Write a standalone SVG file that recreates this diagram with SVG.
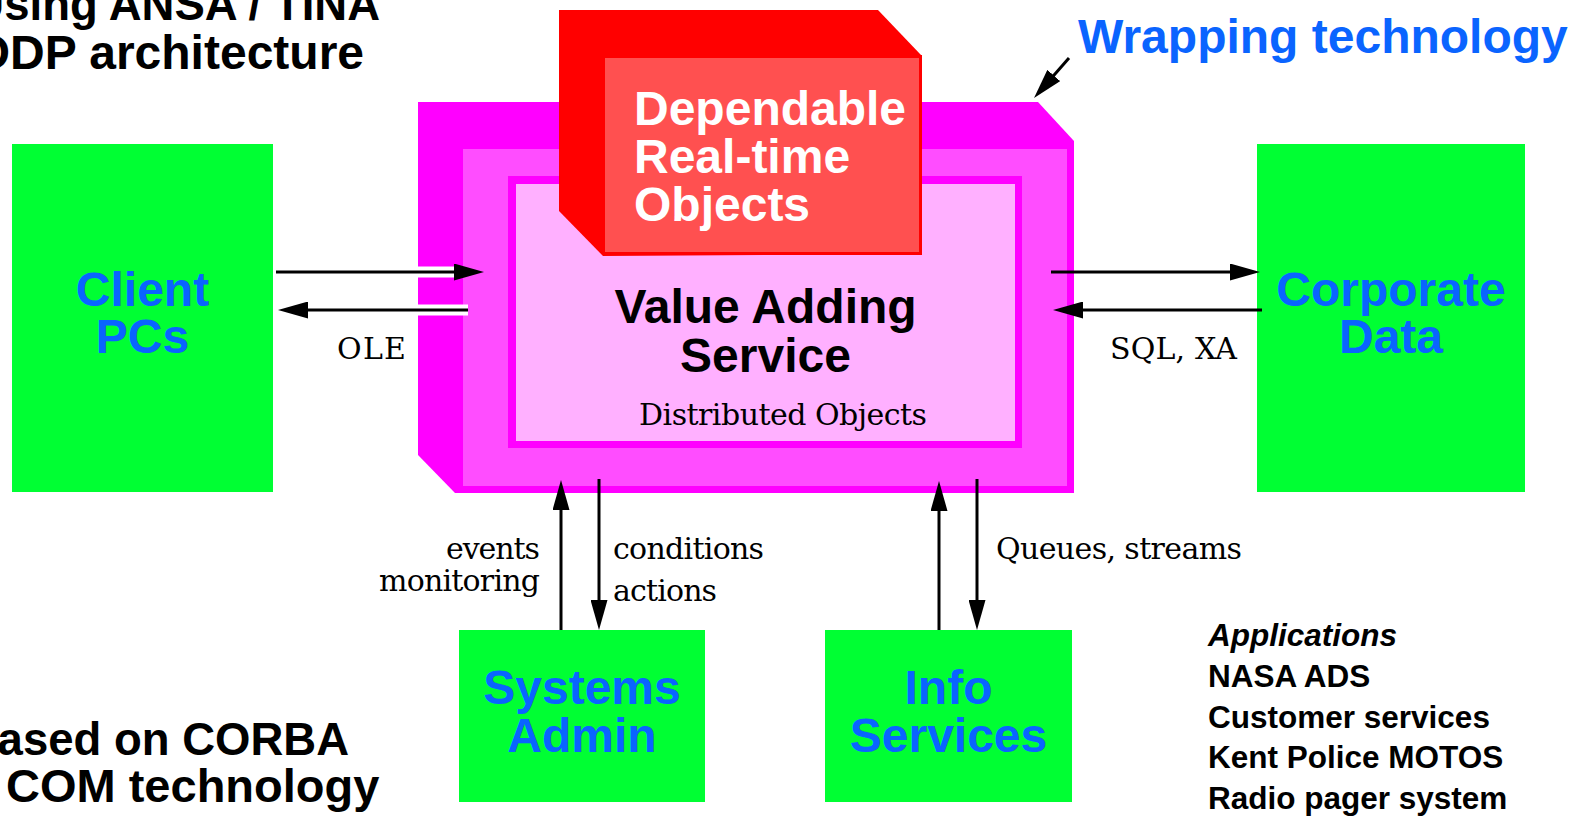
<svg xmlns="http://www.w3.org/2000/svg" width="1584" height="816" viewBox="0 0 1584 816">
<style>
.sb{font-family:"Liberation Sans",Arial,Helvetica,sans-serif;font-weight:bold}
.sbi{font-family:"Liberation Sans",Arial,Helvetica,sans-serif;font-weight:bold;font-style:italic}
.node-t{font-family:"Liberation Sans",Arial,Helvetica,sans-serif;font-weight:bold;font-size:48px;fill:#0a64ff;text-anchor:middle}
.ser{font-family:"DejaVu Serif","Liberation Serif",serif;font-size:30px;fill:#000}
.green{fill:#00ff33}
.ln{stroke:#000;stroke-width:3;fill:none;marker-end:url(#ah)}
.halo{stroke:#fff;stroke-width:11;fill:none}
</style>
<defs>
<marker id="ah" markerUnits="userSpaceOnUse" viewBox="0 0 30 17" markerWidth="30" markerHeight="17" refX="20" refY="8.5" orient="auto">
<path d="M0,0 L30,8.5 L0,17 z" fill="#000"/>
</marker>
</defs>
<rect width="1584" height="816" fill="#fff"/>

<g id="title-top" class="sb" fill="#000">
<text x="380" y="20" font-size="45.5" text-anchor="end">Using ANSA / TINA</text>
<text x="364" y="69" font-size="48" text-anchor="end">ODP architecture</text>
</g>

<g id="title-bottom" class="sb" fill="#000">
<text x="349" y="755" font-size="45.5" text-anchor="end">Based on CORBA</text>
<text x="6" y="802" font-size="47">COM technology</text>
</g>

<g id="wrapping-label">
<text class="sb" x="1078" y="53" font-size="48" fill="#0a64ff">Wrapping technology</text>
</g>

<g id="value-adding-service">
<polygon points="418,102 1038,102 1074,141 1074,493 455,493 418,455" fill="#ff00ff"/>
<rect x="463" y="149" width="604" height="337" fill="#ff4dff"/>
<rect x="508" y="176" width="514" height="272" fill="#ff00ff"/>
<rect x="516" y="184" width="499" height="257" fill="#ffb0ff"/>
<text class="sb" x="765.5" y="323" font-size="48" text-anchor="middle" fill="#000">Value Adding</text>
<text class="sb" x="765.5" y="372" font-size="48" text-anchor="middle" fill="#000">Service</text>
<text class="ser" x="639" y="425" textLength="288">Distributed Objects</text>
</g>

<g id="dependable-objects">
<polygon points="559,10 878,10 921,55 921,254 603,256 559,211" fill="#ff0000"/>
<rect x="603.5" y="56.5" width="317" height="197" fill="#ff5050" stroke="#ff0000" stroke-width="3"/>
<g class="sb" font-size="48" fill="#fff">
<text x="634" y="125">Dependable</text>
<text x="634" y="173">Real-time</text>
<text x="634" y="221">Objects</text>
</g>
</g>

<g id="client-pcs">
<rect class="green" x="12" y="144" width="261" height="348"/>
<text class="node-t" x="142.5" y="306">Client</text>
<text class="node-t" x="142.5" y="353">PCs</text>
</g>

<g id="corporate-data">
<rect class="green" x="1257" y="144" width="268" height="348"/>
<text class="node-t" x="1391" y="306">Corporate</text>
<text class="node-t" x="1391" y="353">Data</text>
</g>

<g id="systems-admin">
<rect class="green" x="459" y="630" width="246" height="172"/>
<text class="node-t" x="582" y="704">Systems</text>
<text class="node-t" x="582" y="752">Admin</text>
</g>

<g id="info-services">
<rect class="green" x="825" y="630" width="247" height="172"/>
<text class="node-t" x="948.5" y="704">Info</text>
<text class="node-t" x="948.5" y="752">Services</text>
</g>

<g id="connectors">
<line class="halo" x1="418" y1="272" x2="457" y2="272"/>
<line class="halo" x1="418" y1="310" x2="468" y2="310"/>
<line class="ln" x1="276" y1="272" x2="474" y2="272"/>
<line class="ln" x1="468" y1="310" x2="288" y2="310"/>
<line class="ln" x1="1051" y1="272" x2="1250" y2="272"/>
<line class="ln" x1="1262" y1="310" x2="1063" y2="310"/>
<line class="ln" x1="561" y1="630" x2="561" y2="490"/>
<line class="ln" x1="599" y1="479" x2="599" y2="620"/>
<line class="ln" x1="939" y1="630" x2="939" y2="491"/>
<line class="ln" x1="977" y1="479" x2="977" y2="620"/>
<line class="ln" x1="1069" y1="58" x2="1040.6" y2="90.5"/>
</g>

<g id="connector-labels">
<text class="ser" x="337" y="359" textLength="69">OLE</text>
<text class="ser" x="1110" y="359" textLength="127">SQL, XA</text>
<text class="ser" x="540" y="559" text-anchor="end" textLength="94">events</text>
<text class="ser" x="540" y="591" text-anchor="end" textLength="161">monitoring</text>
<text class="ser" x="613" y="559" textLength="151">conditions</text>
<text class="ser" x="613" y="601" textLength="104">actions</text>
<text class="ser" x="996" y="559" textLength="246">Queues, streams</text>
</g>

<g id="applications" fill="#000">
<text class="sbi" x="1208" y="646" font-size="31.5">Applications</text>
<text class="sb" x="1208" y="687" font-size="31.5">NASA ADS</text>
<text class="sb" x="1208" y="728" font-size="31.5">Customer services</text>
<text class="sb" x="1208" y="768" font-size="31.5">Kent Police MOTOS</text>
<text class="sb" x="1208" y="809" font-size="31.5">Radio pager system</text>
</g>
</svg>
